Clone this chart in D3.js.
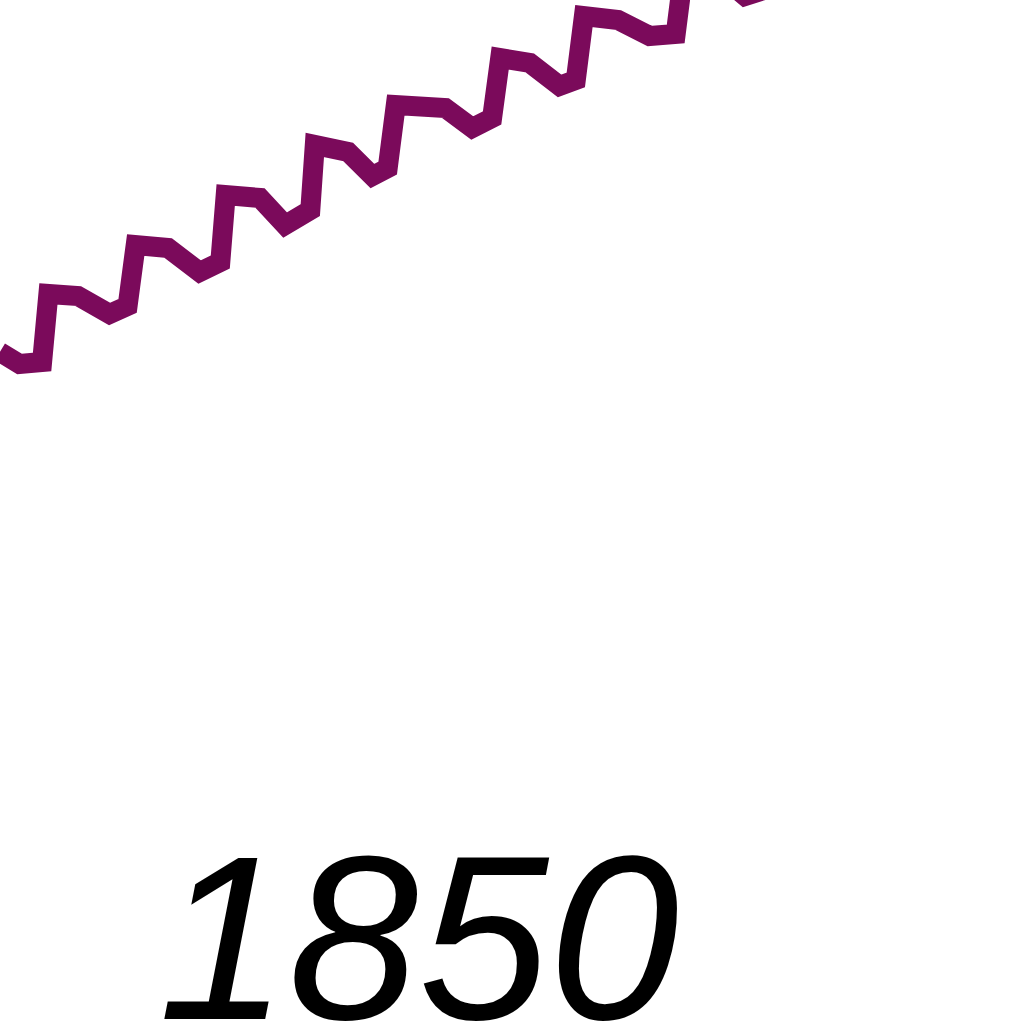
<!DOCTYPE html>
<html>
<head>
<meta charset="utf-8">
<script src="https://cdn.jsdelivr.net/npm/d3@7"></script>
<style>
  html, body { margin: 0; padding: 0; background: #fff; }
  svg { display: block; }
</style>
</head>
<body>
<div id="chart"></div>
<script>
// series (year, value)
var years = [1845.32, 1845.54, 1845.79, 1845.86, 1846.19, 1846.54, 1846.74,
             1846.83, 1847.19, 1847.54, 1847.77,
             1847.83, 1848.21, 1848.49, 1848.77,
             1848.82, 1849.19, 1849.46, 1849.63,
             1849.72, 1850.27, 1850.57, 1850.79,
             1850.88, 1851.21, 1851.54, 1851.72,
             1851.81, 1852.19, 1852.54, 1852.83,
             1852.92, 1853.32, 1853.60, 1853.88, 1853.97];
var values = [67.2, 66.0, 66.2, 73.0, 72.8, 71.0, 71.8,
              77.9, 77.6, 75.2, 76.2,
              82.9, 82.6, 79.9, 81.4,
              87.9, 87.2, 84.8, 85.6,
              91.9, 91.6, 89.6, 90.6,
              96.6, 96.1, 93.8, 94.4,
              100.8, 100.4, 98.8, 99.0,
              105.4, 104.9, 102.8, 103.6, 109.4];
var tickYears = [1850];

var width = 1024, height = 1024;
var svg = d3.select("#chart")
            .append("svg")
            .attr("width", width)
            .attr("height", height);

var x = d3.scaleLinear()
          .domain([1845, 1857])
          .range([421 - 5 * 90, 421 + 7 * 90]);
var y = d3.scaleLinear()
          .domain([0, 102.4])
          .range([height, 0]);

var line = d3.line()
             .x(function(d, i){ return x(years[i]); })
             .y(function(d){ return y(d); });

svg.append("path")
   .datum(values)
   .attr("d", line)
   .attr("fill", "none")
   .attr("stroke", "#7b0a5b")
   .attr("stroke-width", 20)
   .attr("stroke-linejoin", "miter");

var axis = svg.append("g")
   .call(d3.axisBottom(x).tickValues(tickYears).tickSize(0).tickFormat(d3.format("d")));
axis.select(".domain").remove();
axis.selectAll("text")
    .attr("x", -3)
    .attr("y", 1019)
    .attr("dy", 0)
    .style("font-family", "'Liberation Sans', Arial, sans-serif")
    .style("font-style", "italic")
    .style("font-size", "234px")
    .style("fill", "#000");
</script>
</body>
</html>
